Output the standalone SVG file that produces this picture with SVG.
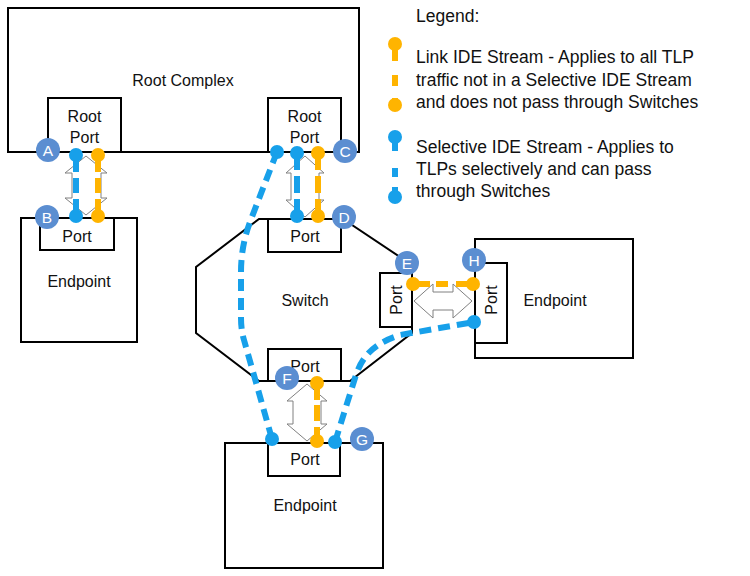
<svg xmlns="http://www.w3.org/2000/svg" width="750" height="576" viewBox="0 0 750 576">
<style>
.box{fill:#fff;stroke:#000;stroke-width:2}
.t{font-family:"Liberation Sans",Arial,sans-serif;font-size:16px;fill:#111;text-anchor:middle}
.lg{font-family:"Liberation Sans",Arial,sans-serif;font-size:17.5px;fill:#111}
.lbl circle{fill:#5b8ed1}
.lbl text{font-family:"Liberation Sans",Arial,sans-serif;font-size:15.5px;fill:#fff;text-anchor:middle}
.harrow{fill:#fff;stroke:#808080;stroke-width:1}
.blue{stroke:#17a0ea;stroke-width:6;fill:none}
.orange{stroke:#ffb400;stroke-width:6;fill:none}
.bdot{fill:#17a0ea}
.odot{fill:#ffb400}
.long{stroke-dasharray:12 7}
</style>
<rect width="750" height="576" fill="#fff"/>

<g id="root-complex">
<rect class="box" x="8" y="8" width="351" height="144"/>
<text class="t" x="183" y="86">Root Complex</text>
</g>
<g id="root-port-left">
<rect class="box" x="48" y="98" width="73" height="54"/>
<text class="t" x="84.5" y="122">Root</text>
<text class="t" x="84.5" y="143">Port</text>
</g>
<g id="root-port-right">
<rect class="box" x="268" y="98" width="73" height="54"/>
<text class="t" x="304.5" y="122">Root</text>
<text class="t" x="304.5" y="143">Port</text>
</g>

<g id="endpoint-left">
<rect class="box" x="21" y="218" width="116" height="124"/>
<rect class="box" x="40" y="218" width="74" height="32"/>
<text class="t" x="77" y="242">Port</text>
<text class="t" x="79" y="287">Endpoint</text>
</g>

<g id="switch">
<path class="box" d="M259,219 L343,219 L412,265 L412,333 L350,381 L259,381 L196,333 L196,267 Z"/>
<rect class="box" x="268" y="219" width="73" height="33"/>
<rect class="box" x="268" y="349" width="73" height="32"/>
<rect class="box" x="380" y="273" width="32" height="54"/>
<text class="t" x="305" y="242">Port</text>
<text class="t" x="305" y="372">Port</text>
<text class="t" x="305" y="306">Switch</text>
<text class="t" transform="translate(402,300) rotate(-90)">Port</text>
</g>

<g id="endpoint-right">
<rect class="box" x="475" y="239" width="158" height="119"/>
<rect class="box" x="475" y="263" width="32" height="80"/>
<text class="t" transform="translate(497,300) rotate(-90)">Port</text>
<text class="t" x="555" y="306">Endpoint</text>
</g>

<g id="endpoint-bottom">
<rect class="box" x="225" y="443" width="158" height="125"/>
<rect class="box" x="268" y="443" width="72" height="33"/>
<text class="t" x="305" y="465">Port</text>
<text class="t" x="305" y="511">Endpoint</text>
</g>

<g id="connectors">
<path class="harrow" d="M86,156 L107,173 L101,173 L101,198 L107,198 L86,215 L65,198 L72,198 L72,173 L65,173 Z"/>
<path class="harrow" d="M305,156 L324,173 L319,173 L319,200 L324,200 L305,217 L286,200 L291,200 L291,173 L286,173 Z"/>
<path class="harrow" d="M307,384 L327,401 L321,401 L321,424 L327,424 L307,441 L287,424 L293,424 L293,401 L287,401 Z"/>
<path class="harrow" d="M414,301 L433,284 L433,292 L453,292 L453,284 L472,301 L453,318 L453,310 L433,310 L433,318 Z"/>

<line class="blue" x1="76" y1="155" x2="76" y2="216" stroke-dasharray="17 6 15 6 17"/>
<line class="orange" x1="98" y1="155" x2="98" y2="216" stroke-dasharray="17 6 15 6 17"/>
<line class="blue" x1="297" y1="153" x2="297" y2="216" stroke-dasharray="17 6 17 6 17"/>
<line class="orange" x1="318" y1="153" x2="318" y2="216" stroke-dasharray="17 6 17 6 17"/>
<line class="orange" x1="413" y1="284" x2="473" y2="284" stroke-dasharray="17 6 12 8 17"/>
<line class="orange" x1="317" y1="383" x2="317" y2="441" stroke-dasharray="17 5 16 6 14"/>
<path class="blue long" d="M277,152 L250,222 Q241,246 241,272 L241,318 Q241,330 244,340 L272,439"/>
<path class="blue long" d="M335,442 L355,378 C362,355 375,343 400,335 L474,322"/>

<circle class="bdot" cx="76" cy="155" r="7"/>
<circle class="bdot" cx="76" cy="216" r="7"/>
<circle class="odot" cx="98" cy="155" r="7"/>
<circle class="odot" cx="98" cy="216" r="7"/>
<circle class="bdot" cx="277" cy="152" r="7"/>
<circle class="bdot" cx="297" cy="153" r="7"/>
<circle class="bdot" cx="297" cy="216" r="7"/>
<circle class="odot" cx="318" cy="153" r="7"/>
<circle class="odot" cx="318" cy="216" r="7"/>
<circle class="odot" cx="413" cy="284" r="7"/>
<circle class="odot" cx="473" cy="284" r="7"/>
<circle class="bdot" cx="474" cy="322" r="7"/>
<circle class="odot" cx="317" cy="383" r="7"/>
<circle class="odot" cx="317" cy="441" r="7"/>
<circle class="bdot" cx="272" cy="439" r="7"/>
<circle class="bdot" cx="335" cy="442" r="7"/>
</g>

<g id="labels" class="lbl">
<g id="label-A"><circle cx="48" cy="150" r="12"/><text x="48" y="155.5">A</text></g>
<g id="label-B"><circle cx="47" cy="217" r="12"/><text x="47" y="222.5">B</text></g>
<g id="label-C"><circle cx="345" cy="151" r="12"/><text x="345" y="156.5">C</text></g>
<g id="label-D"><circle cx="344" cy="217" r="12"/><text x="344" y="222.5">D</text></g>
<g id="label-E"><circle cx="407" cy="263" r="12"/><text x="407" y="268.5">E</text></g>
<g id="label-H"><circle cx="474" cy="260" r="12"/><text x="474" y="265.5">H</text></g>
<g id="label-F"><circle cx="287" cy="378" r="12"/><text x="287" y="383.5">F</text></g>
<g id="label-G"><circle cx="362" cy="439" r="12"/><text x="362" y="444.5">G</text></g>
</g>

<g id="legend">
<text class="lg" x="416" y="22">Legend:</text>
<line class="orange" x1="395" y1="44" x2="395" y2="105" stroke-dasharray="17 14 11 12 8"/>
<circle class="odot" cx="395" cy="44" r="7"/>
<circle class="odot" cx="395" cy="105" r="7"/>
<text class="lg" x="416" y="63">Link IDE Stream - Applies to all TLP</text>
<text class="lg" x="416" y="86">traffic not in a Selective IDE Stream</text>
<text class="lg" x="416" y="108">and does not pass through Switches</text>
<line class="blue" x1="395" y1="137" x2="395" y2="197" stroke-dasharray="14 17 9 10 10"/>
<circle class="bdot" cx="395" cy="137" r="7"/>
<circle class="bdot" cx="395" cy="197" r="7"/>
<text class="lg" x="416" y="153">Selective IDE Stream - Applies to</text>
<text class="lg" x="416" y="175">TLPs selectively and can pass</text>
<text class="lg" x="416" y="197">through Switches</text>
</g>
</svg>
